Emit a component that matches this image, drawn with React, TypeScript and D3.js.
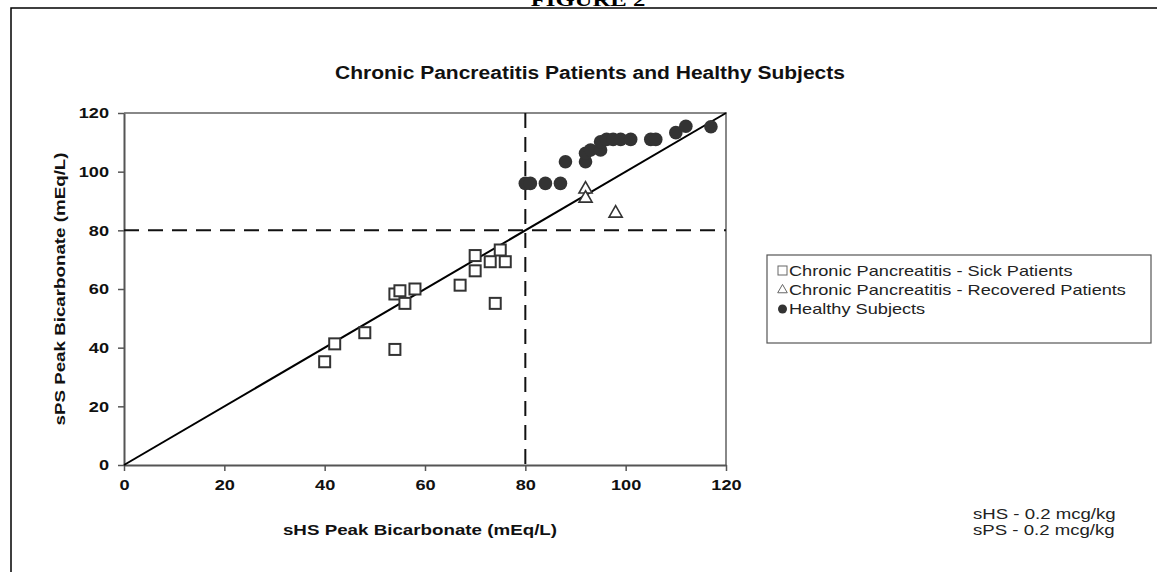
import * as d3 from "d3";
import { useEffect, useRef } from "react";

// Chronic pancreatitis - sick patients [sHS, sPS]
const sickX = [40, 42, 48, 54, 54, 55, 56, 58, 67, 70, 70, 73, 74, 75, 76];
const sickY = [35.2, 41.3, 45.1, 39.4, 58.3, 59.4, 55.1, 60, 61.3, 66.2, 71.4, 69.3, 55.1, 73.3, 69.3];

// Chronic pancreatitis - recovered patients
const recX = [92, 92, 98];
const recY = [94, 90.9, 85.8];

// Healthy subjects
const healthyX = [80, 81, 84, 87, 88, 92, 92, 93, 95, 95, 96.2, 97.5, 99, 101, 105, 106, 110, 112, 117];
const healthyY = [96, 96, 96, 96, 103.4, 103.4, 106.3, 107.4, 107.4, 110.2, 111, 111, 111, 111, 111, 111, 113.3, 115.5, 115.3];

const ticks = [0, 20, 40, 60, 80, 100, 120];
const legendLabels = [
  "Chronic Pancreatitis - Sick Patients",
  "Chronic Pancreatitis - Recovered Patients",
  "Healthy Subjects",
];
const doseNotes = ["sHS - 0.2 mcg/kg", "sPS - 0.2 mcg/kg"];
const cutoff = 80;

// the original figure is stretched sideways, so widen text to match
function stretch(sel: d3.Selection<any, any, any, any>, k: number) {
  sel.each(function () {
    const el = this as SVGTextElement;
    const w = el.getComputedTextLength();
    el.setAttribute("textLength", String(w * k));
    el.setAttribute("lengthAdjust", "spacingAndGlyphs");
  });
}

export default function App() {
  const ref = useRef<SVGSVGElement | null>(null);

  useEffect(() => {
    const width = 1157;
    const height = 572;
    const svg = d3.select(ref.current);
    svg.selectAll("*").remove();
    svg.attr("width", width).attr("height", height);

    const font = "Arial, 'Liberation Sans', sans-serif";
    const ink = "#333";
    const k = 1.21;

    const x = d3.scaleLinear().domain([0, 120]).range([124, 726]);
    const y = d3.scaleLinear().domain([0, 120]).range([465, 113]);

    // figure frame
    svg.append("text")
      .attr("x", 588)
      .attr("y", 6)
      .attr("text-anchor", "middle")
      .style("font-family", "'Liberation Serif', 'Times New Roman', serif")
      .style("font-weight", "bold")
      .style("font-size", "19px")
      .text("FIGURE 2")
      .call(stretch, 1.3);
    svg.append("path")
      .attr("d", `M11,${height} V8 H${width}`)
      .attr("fill", "none")
      .attr("stroke", "#000")
      .attr("stroke-width", 1.5);

    // title
    svg.append("text")
      .attr("x", 590)
      .attr("y", 79)
      .attr("text-anchor", "middle")
      .style("font-family", font)
      .style("font-weight", "bold")
      .style("font-size", "17.5px")
      .attr("fill", "#111")
      .text("Chronic Pancreatitis Patients and Healthy Subjects")
      .call(stretch, 1.2);

    // plot border (top/right)
    svg.append("path")
      .attr("d", `M${x(0)},${y(120)} H${x(120)} V${y(0)}`)
      .attr("fill", "none")
      .attr("stroke", "#888")
      .attr("stroke-width", 2);

    // axes
    const xAxis = svg.append("g")
      .attr("transform", `translate(0,${y(0)})`)
      .call(d3.axisBottom(x).tickValues(ticks).tickSize(6).tickSizeOuter(0).tickPadding(8));
    const yAxis = svg.append("g")
      .attr("transform", `translate(${x(0)},0)`)
      .call(d3.axisLeft(y).tickValues(ticks).tickSize(6).tickSizeOuter(0).tickPadding(9));
    [xAxis, yAxis].forEach((a) => {
      a.select(".domain").attr("stroke", "#555").attr("stroke-width", 2);
      a.selectAll(".tick line").attr("stroke", "#555").attr("stroke-width", 1.5);
      a.selectAll(".tick text")
        .style("font-family", font)
        .style("font-weight", "bold")
        .style("font-size", "15px")
        .attr("fill", "#111")
        .call(stretch, k);
    });

    // axis titles
    svg.append("text")
      .attr("x", 420)
      .attr("y", 535)
      .attr("text-anchor", "middle")
      .style("font-family", font)
      .style("font-weight", "bold")
      .style("font-size", "15.5px")
      .attr("fill", "#111")
      .text("sHS Peak Bicarbonate (mEq/L)")
      .call(stretch, k);
    svg.append("text")
      .attr("transform", `translate(65,${(y(0) + y(120)) / 2}) rotate(-90)`)
      .attr("text-anchor", "middle")
      .style("font-family", font)
      .style("font-weight", "bold")
      .style("font-size", "15.5px")
      .attr("fill", "#111")
      .text("sPS Peak Bicarbonate (mEq/L)")
      .call(stretch, k);

    // reference lines
    const dash = "15,9";
    svg.append("line")
      .attr("x1", x(0)).attr("x2", x(120))
      .attr("y1", y(cutoff)).attr("y2", y(cutoff))
      .attr("stroke", "#111").attr("stroke-width", 2).attr("stroke-dasharray", dash);
    svg.append("line")
      .attr("x1", x(cutoff)).attr("x2", x(cutoff))
      .attr("y1", y(120)).attr("y2", y(0))
      .attr("stroke", "#111").attr("stroke-width", 2).attr("stroke-dasharray", dash);
    svg.append("line")
      .attr("x1", x(0)).attr("y1", y(0))
      .attr("x2", x(120)).attr("y2", y(120))
      .attr("stroke", "#000").attr("stroke-width", 2);

    // healthy
    svg.append("g")
      .selectAll("circle")
      .data(d3.zip(healthyX, healthyY))
      .join("circle")
      .attr("cx", (d) => x(d[0]))
      .attr("cy", (d) => y(d[1]))
      .attr("r", 6.8)
      .attr("fill", ink);

    // recovered
    const tri = d3.symbol().type(d3.symbolTriangle).size(75);
    svg.append("g")
      .selectAll("path")
      .data(d3.zip(recX, recY))
      .join("path")
      .attr("transform", (d) => `translate(${x(d[0])},${y(d[1])})`)
      .attr("d", tri())
      .attr("fill", "#fff")
      .attr("stroke", ink)
      .attr("stroke-width", 1.6);

    // sick
    const s = 11;
    svg.append("g")
      .selectAll("rect")
      .data(d3.zip(sickX, sickY))
      .join("rect")
      .attr("x", (d) => x(d[0]) - s / 2)
      .attr("y", (d) => y(d[1]) - s / 2)
      .attr("width", s)
      .attr("height", s)
      .attr("fill", "#fff")
      .attr("stroke", ink)
      .attr("stroke-width", 2);

    // legend
    const legend = svg.append("g").attr("transform", "translate(767,255)");
    legend.append("rect")
      .attr("width", 384)
      .attr("height", 88)
      .attr("fill", "#fff")
      .attr("stroke", "#555")
      .attr("stroke-width", 1.2);
    legendLabels.forEach((label, i) => {
      const cy = 15 + i * 19;
      if (i === 0) {
        legend.append("rect")
          .attr("x", 11).attr("y", cy - 4)
          .attr("width", 9).attr("height", 9)
          .attr("fill", "#fff").attr("stroke", "#666").attr("stroke-width", 1);
      } else if (i === 1) {
        legend.append("path")
          .attr("transform", `translate(15.5,${cy + 1})`)
          .attr("d", d3.symbol().type(d3.symbolTriangle).size(40)())
          .attr("fill", "#fff").attr("stroke", "#666").attr("stroke-width", 1);
      } else {
        legend.append("circle")
          .attr("cx", 15.5).attr("cy", cy + 1).attr("r", 4.5)
          .attr("fill", ink);
      }
      legend.append("text")
        .attr("x", 22)
        .attr("y", cy + 6)
        .style("font-family", font)
        .style("font-size", "15px")
        .attr("fill", "#222")
        .text(label)
        .call(stretch, k);
    });

    // dose note
    doseNotes.forEach((t, i) => {
      svg.append("text")
        .attr("x", 973)
        .attr("y", 519 + i * 16)
        .style("font-family", font)
        .style("font-size", "15.5px")
        .attr("fill", "#222")
        .text(t)
        .call(stretch, 1.2);
    });
  }, []);

  return (
    <svg
      ref={ref}
      style={{ position: "absolute", left: 0, top: 0, background: "#fff" }}
    />
  );
}
